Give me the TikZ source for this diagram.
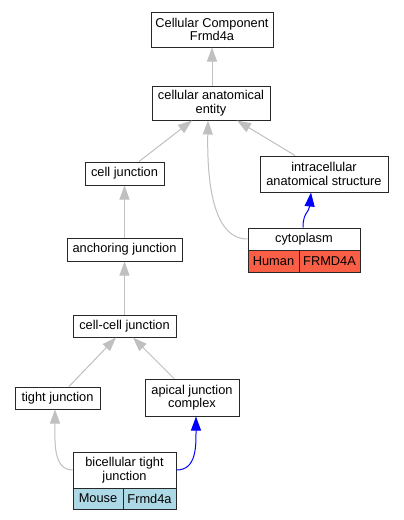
\documentclass[tikz,border=0pt]{standalone}
\usepackage{fontspec}
\setmainfont{Liberation Sans}
\usetikzlibrary{arrows.meta}
\definecolor{edgegray}{RGB}{192,192,192}
\definecolor{boxline}{RGB}{40,40,40}
\definecolor{humanfill}{RGB}{250,95,70}
\definecolor{mousefill}{RGB}{173,216,230}
\begin{document}
\begin{tikzpicture}[x=1pt,y=-1pt,
  box/.style={draw=boxline, line width=1pt, fill=white, inner sep=0pt, align=center,
    font=\fontsize{12.8}{13.5}\selectfont},
  gedge/.style={draw=edgegray, line width=1pt, -{Triangle[length=14pt,width=10pt,fill=edgegray]}},
  bedge/.style={draw=blue, line width=1pt, -{Triangle[length=14pt,width=10pt,fill=blue]}}]
\useasboundingbox (0,0) rectangle (404,520);
\fill[white] (0,0) rectangle (404,520);

\node[box, minimum width=122pt, minimum height=35pt] (top) at (212,29.5) {Cellular Component\\Frmd4a};
\node[box, minimum width=118pt, minimum height=34pt] (cae) at (211,103) {cellular anatomical\\entity};
\node[box, minimum width=79pt, minimum height=23pt] (cj) at (124.5,173.5) {cell junction};
\node[box, minimum width=128pt, minimum height=36pt] (ic) at (324,174) {intracellular\\anatomical structure};
\node[box, minimum width=112pt, minimum height=22pt] (cyto) at (304,239) {cytoplasm};
\node[box, fill=humanfill, minimum width=51pt, minimum height=22pt] (cytoH) at (273.5,261) {Human};
\node[box, fill=humanfill, minimum width=61pt, minimum height=22pt] (cytoF) at (329.5,261) {FRMD4A};
\node[box, minimum width=115pt, minimum height=23pt] (aj) at (124.5,249.5) {anchoring junction};
\node[box, minimum width=103pt, minimum height=22pt] (ccj) at (124.5,326) {cell-cell junction};
\node[box, minimum width=85pt, minimum height=22pt] (tj) at (57.5,398) {tight junction};
\node[box, minimum width=94pt, minimum height=37pt] (ajc) at (192,397.5) {apical junction\\complex};
\node[box, minimum width=103pt, minimum height=36pt] (btj) at (124.5,470) {bicellular tight\\junction};
\node[box, fill=mousefill, minimum width=50pt, minimum height=21pt] (btjM) at (98,498.5) {Mouse};
\node[box, fill=mousefill, minimum width=53pt, minimum height=21pt] (btjF) at (149.5,498.5) {Frmd4a};

\draw[gedge] ([xshift=1pt]cae.north) -- (top.south);
\draw[gedge] ([xshift=14.5pt]cj.north) -- ([xshift=-19pt]cae.south);
\draw[gedge] ([xshift=-29pt]ic.north) -- ([xshift=26pt]cae.south);
\draw[gedge] (cyto.west) .. controls +(-35,0) and +(-1,60) .. ([xshift=-3pt]cae.south);
\draw[bedge] ([xshift=-1pt]cyto.north) .. controls +(0,-15) and +(-2,20) .. ([xshift=-13pt]ic.south);
\draw[gedge] (aj.north) -- (cj.south);
\draw[gedge] (ccj.north) -- (aj.south);
\draw[gedge] ([xshift=11.5pt]tj.north) -- ([xshift=-8.5pt]ccj.south);
\draw[gedge] ([xshift=-18pt]ajc.north) -- ([xshift=8.5pt]ccj.south);
\draw[gedge] (btj.west) .. controls +(-20,0) and +(0,30) .. ([xshift=-2.5pt]tj.south);
\draw[bedge] (btj.east) .. controls +(20,0) and +(0,30) .. ([xshift=4pt]ajc.south);
\end{tikzpicture}
\end{document}
